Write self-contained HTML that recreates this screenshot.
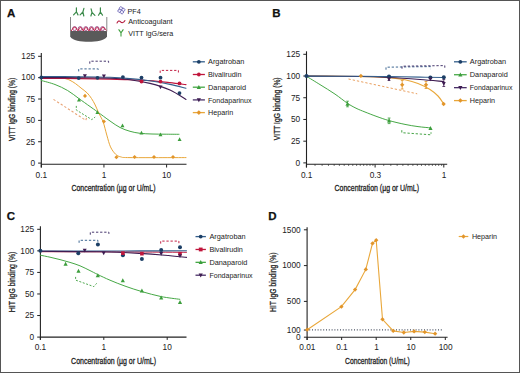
<!DOCTYPE html>
<html><head><meta charset="utf-8"><style>
html,body{margin:0;padding:0;background:#fff;}
body{width:520px;height:373px;overflow:hidden;font-family:"Liberation Sans", sans-serif;}
svg{display:block;}
</style></head><body>
<svg width="520" height="373" viewBox="0 0 520 373" font-family='"Liberation Sans", sans-serif'>
<rect x="0" y="0" width="520" height="373" fill="#fff"/>
<text x="6.90" y="16.70" font-size="11.50" font-weight="bold" text-anchor="start" fill="#111" stroke="#111" stroke-width="0.25">A</text>
<g>
<path d="M70.2,31 L107,31 L107,36.5 C105,40.5 96,41.8 88.6,41.8 C81,41.8 72.2,40.5 70.2,36.5 Z" fill="#5a5a5a"/>
<line x1="70.50" y1="17.00" x2="70.50" y2="31.50" stroke="#888" stroke-width="1.00"/>
<line x1="106.80" y1="17.00" x2="106.80" y2="31.50" stroke="#888" stroke-width="1.00"/>
<circle cx="74.6" cy="28.6" r="2.0" fill="#fbeef5" stroke="#8b3a7a" stroke-width="0.8"/>
<circle cx="80.2" cy="28.6" r="2.0" fill="#fbeef5" stroke="#8b3a7a" stroke-width="0.8"/>
<circle cx="85.8" cy="28.6" r="2.0" fill="#fbeef5" stroke="#8b3a7a" stroke-width="0.8"/>
<circle cx="91.4" cy="28.6" r="2.0" fill="#fbeef5" stroke="#8b3a7a" stroke-width="0.8"/>
<circle cx="97.0" cy="28.6" r="2.0" fill="#fbeef5" stroke="#8b3a7a" stroke-width="0.8"/>
<circle cx="102.6" cy="28.6" r="2.0" fill="#fbeef5" stroke="#8b3a7a" stroke-width="0.8"/>
<path d="M71.2,31 Q74.6,23.5 78,31 Q80.2,23.8 83.3,31 Q85.8,24 89,31 Q91.4,24 94.4,31 Q97,24 100,31 Q102.6,24 106.4,30.5" fill="none" stroke="#c0163c" stroke-width="0.9"/>
<path d="M76.4,7.8 L76.4,11.8 L73.6,14.9 M76.4,11.8 L78.0,14.9" fill="none" stroke="#3b8a4a" stroke-width="1.2" stroke-linecap="round" stroke-linejoin="round"/>
<path d="M83.9,8.3 L82.9,12.0 L80.1,14.9 M82.9,12.0 L83.8,16.0" fill="none" stroke="#3b8a4a" stroke-width="1.2" stroke-linecap="round" stroke-linejoin="round"/>
<path d="M91.1,8.8 L92.0,12.4 L90.9,16.0 M92.0,12.4 L94.9,15.4" fill="none" stroke="#3b8a4a" stroke-width="1.2" stroke-linecap="round" stroke-linejoin="round"/>
<path d="M100.4,7.8 L100.4,12.0 L98.5,15.2 M100.4,12.0 L102.5,15.2" fill="none" stroke="#3b8a4a" stroke-width="1.2" stroke-linecap="round" stroke-linejoin="round"/>
</g>
<g transform="translate(121.4,10.3) rotate(30)">
<circle cx="-1.40" cy="-1.40" r="1.6" fill="#f2f2ff" stroke="#6a62b0" stroke-width="0.8"/>
<circle cx="1.40" cy="-1.40" r="1.6" fill="#f2f2ff" stroke="#6a62b0" stroke-width="0.8"/>
<circle cx="-1.40" cy="1.40" r="1.6" fill="#f2f2ff" stroke="#6a62b0" stroke-width="0.8"/>
<circle cx="1.40" cy="1.40" r="1.6" fill="#f2f2ff" stroke="#6a62b0" stroke-width="0.8"/>
</g>
<text x="127.50" y="13.60" font-size="7.30" font-weight="normal" text-anchor="start" fill="#222" textLength="13.30" lengthAdjust="spacingAndGlyphs">PF4</text>
<path d="M116.8,23.4 Q118.5,19.5 120.6,21.8 Q122.7,24.2 125.2,20.2" fill="none" stroke="#b3163a" stroke-width="1.1"/>
<text x="128.20" y="24.00" font-size="7.30" font-weight="normal" text-anchor="start" fill="#222" textLength="44.40" lengthAdjust="spacingAndGlyphs">Anticoagulant</text>
<path d="M118.6,29.4 L121,32.8 L123.4,29.4 M121,32.8 L121,36.6" fill="none" stroke="#3c9e3c" stroke-width="1.1"/>
<text x="128.20" y="36.10" font-size="7.30" font-weight="normal" text-anchor="start" fill="#222" textLength="45.00" lengthAdjust="spacingAndGlyphs">VITT IgG/sera</text>
<line x1="41.30" y1="53.00" x2="41.30" y2="167.40" stroke="#222" stroke-width="1.10"/>
<line x1="38.10" y1="56.30" x2="41.30" y2="56.30" stroke="#222" stroke-width="1.00"/>
<text x="35.20" y="59.10" font-size="8.30" font-weight="normal" text-anchor="end" fill="#222">125</text>
<line x1="38.10" y1="77.66" x2="41.30" y2="77.66" stroke="#222" stroke-width="1.00"/>
<text x="35.20" y="80.46" font-size="8.30" font-weight="normal" text-anchor="end" fill="#222">100</text>
<line x1="38.10" y1="99.02" x2="41.30" y2="99.02" stroke="#222" stroke-width="1.00"/>
<text x="35.20" y="101.82" font-size="8.30" font-weight="normal" text-anchor="end" fill="#222">75</text>
<line x1="38.10" y1="120.38" x2="41.30" y2="120.38" stroke="#222" stroke-width="1.00"/>
<text x="35.20" y="123.18" font-size="8.30" font-weight="normal" text-anchor="end" fill="#222">50</text>
<line x1="38.10" y1="141.74" x2="41.30" y2="141.74" stroke="#222" stroke-width="1.00"/>
<text x="35.20" y="144.54" font-size="8.30" font-weight="normal" text-anchor="end" fill="#222">25</text>
<line x1="38.10" y1="163.10" x2="41.30" y2="163.10" stroke="#222" stroke-width="1.00"/>
<text x="35.20" y="165.90" font-size="8.30" font-weight="normal" text-anchor="end" fill="#222">0</text>
<line x1="41.30" y1="164.30" x2="186.50" y2="164.30" stroke="#222" stroke-width="1.10"/>
<line x1="41.30" y1="164.30" x2="41.30" y2="167.50" stroke="#222" stroke-width="1.00"/>
<text x="41.30" y="177.70" font-size="8.30" font-weight="normal" text-anchor="middle" fill="#222">0.1</text>
<line x1="103.95" y1="164.30" x2="103.95" y2="167.50" stroke="#222" stroke-width="1.00"/>
<text x="103.95" y="177.70" font-size="8.30" font-weight="normal" text-anchor="middle" fill="#222">1</text>
<line x1="166.60" y1="164.30" x2="166.60" y2="167.50" stroke="#222" stroke-width="1.00"/>
<text x="166.60" y="177.70" font-size="8.30" font-weight="normal" text-anchor="middle" fill="#222">10</text>
<text x="113.50" y="190.80" font-size="9.30" text-anchor="middle" fill="#222" stroke="#222" stroke-width="0.30" textLength="84.00" lengthAdjust="spacingAndGlyphs">Concentration (µg or U/mL)</text>
<text transform="translate(15.00,109.30) rotate(-90)" x="0" y="0" font-size="9.30" text-anchor="middle" fill="#222" stroke="#222" stroke-width="0.30" textLength="63.30" lengthAdjust="spacingAndGlyphs">VITT IgG binding (%)</text>
<path d="M41.30,80.50 C43.58,81.17 50.62,82.83 55.00,84.50 C59.38,86.17 63.63,88.17 67.60,90.50 C71.57,92.83 75.07,95.83 78.80,98.50 C82.53,101.17 86.90,104.28 90.00,106.50 C93.10,108.72 94.07,109.38 97.40,111.80 C100.73,114.22 106.23,118.38 110.00,121.00 C113.77,123.62 116.67,125.78 120.00,127.50 C123.33,129.22 126.67,130.33 130.00,131.30 C133.33,132.27 136.33,132.85 140.00,133.30 C143.67,133.75 147.83,133.85 152.00,134.00 C156.17,134.15 160.50,134.15 165.00,134.20 C169.50,134.25 176.67,134.28 179.00,134.30" fill="none" stroke="#46a846" stroke-width="1.00" stroke-linecap="round" stroke-linejoin="round"/>
<path d="M41.30,77.60 C43.58,77.63 51.22,77.68 55.00,77.80 C58.78,77.92 61.50,77.88 64.00,78.30 C66.50,78.72 68.07,79.40 70.00,80.30 C71.93,81.20 73.77,82.42 75.60,83.70 C77.43,84.98 79.08,86.47 81.00,88.00 C82.92,89.53 85.35,91.15 87.10,92.90 C88.85,94.65 90.15,96.48 91.50,98.50 C92.85,100.52 94.00,102.58 95.20,105.00 C96.40,107.42 97.38,110.20 98.70,113.00 C100.02,115.80 101.75,118.12 103.10,121.80 C104.45,125.48 105.57,130.92 106.80,135.10 C108.03,139.28 109.02,143.70 110.50,146.90 C111.98,150.10 113.98,152.63 115.70,154.30 C117.42,155.97 118.42,156.35 120.80,156.90 C123.18,157.45 119.13,157.48 130.00,157.60 C140.87,157.72 176.67,157.60 186.00,157.60" fill="none" stroke="#e9a73a" stroke-width="1.00" stroke-linecap="round" stroke-linejoin="round"/>
<path d="M41.30,78.40 C47.75,78.43 68.55,78.48 80.00,78.60 C91.45,78.72 101.67,78.90 110.00,79.10 C118.33,79.30 123.33,79.55 130.00,79.80 C136.67,80.05 143.33,80.13 150.00,80.60 C156.67,81.07 164.00,81.93 170.00,82.60 C176.00,83.27 183.33,84.27 186.00,84.60" fill="none" stroke="#c0163c" stroke-width="1.10" stroke-linecap="round" stroke-linejoin="round"/>
<path d="M41.30,76.60 C47.75,76.62 68.55,76.58 80.00,76.70 C91.45,76.82 101.67,76.98 110.00,77.30 C118.33,77.62 123.33,78.02 130.00,78.60 C136.67,79.18 143.33,79.83 150.00,80.80 C156.67,81.77 164.00,83.17 170.00,84.40 C176.00,85.63 183.33,87.57 186.00,88.20" fill="none" stroke="#345f8c" stroke-width="1.10" stroke-linecap="round" stroke-linejoin="round"/>
<path d="M41.30,77.60 C47.75,77.62 68.55,77.60 80.00,77.70 C91.45,77.80 101.67,77.87 110.00,78.20 C118.33,78.53 123.33,78.83 130.00,79.70 C136.67,80.57 143.33,81.68 150.00,83.40 C156.67,85.12 164.00,87.32 170.00,90.00 C176.00,92.68 183.33,97.92 186.00,99.50" fill="none" stroke="#3f1d52" stroke-width="1.10" stroke-linecap="round" stroke-linejoin="round"/>
<circle cx="41.30" cy="77.40" r="1.90" fill="#1c3f66"/>
<circle cx="78.70" cy="78.10" r="1.90" fill="#1c3f66"/>
<circle cx="97.50" cy="77.80" r="1.90" fill="#1c3f66"/>
<circle cx="122.90" cy="77.10" r="1.90" fill="#1c3f66"/>
<circle cx="141.50" cy="77.60" r="1.90" fill="#1c3f66"/>
<circle cx="160.50" cy="77.70" r="1.90" fill="#1c3f66"/>
<circle cx="179.50" cy="93.10" r="1.90" fill="#1c3f66"/>
<circle cx="141.50" cy="81.50" r="1.90" fill="#c0163c"/>
<circle cx="160.50" cy="81.60" r="1.90" fill="#c0163c"/>
<circle cx="179.50" cy="83.40" r="1.90" fill="#c0163c"/>
<polygon points="84.90,77.96 82.92,74.18 86.88,74.18" fill="#3f1d52"/>
<polygon points="103.90,78.16 101.92,74.38 105.88,74.38" fill="#3f1d52"/>
<polygon points="160.50,89.16 158.52,85.38 162.48,85.38" fill="#3f1d52"/>
<polygon points="79.00,97.64 77.02,101.42 80.98,101.42" fill="#3c9e3c"/>
<polygon points="97.40,110.24 95.42,114.02 99.38,114.02" fill="#3c9e3c"/>
<polygon points="122.50,123.44 120.52,127.22 124.48,127.22" fill="#3c9e3c"/>
<polygon points="141.50,130.84 139.52,134.62 143.48,134.62" fill="#3c9e3c"/>
<polygon points="160.50,132.54 158.52,136.32 162.48,136.32" fill="#3c9e3c"/>
<polygon points="179.60,137.24 177.62,141.02 181.58,141.02" fill="#3c9e3c"/>
<polygon points="85.00,93.86 87.04,95.90 85.00,97.94 82.96,95.90" fill="#e2952a"/>
<polygon points="103.90,119.46 105.94,121.50 103.90,123.54 101.86,121.50" fill="#e2952a"/>
<polygon points="116.40,155.16 118.44,157.20 116.40,159.24 114.36,157.20" fill="#e2952a"/>
<polygon points="134.60,154.96 136.64,157.00 134.60,159.04 132.56,157.00" fill="#e2952a"/>
<polygon points="154.00,154.96 156.04,157.00 154.00,159.04 151.96,157.00" fill="#e2952a"/>
<polygon points="173.00,154.96 175.04,157.00 173.00,159.04 170.96,157.00" fill="#e2952a"/>
<polyline points="78.70,71.40 78.70,68.90 98.30,68.90 98.30,71.40" fill="none" stroke="#345f8c" stroke-width="0.95" stroke-dasharray="2.3,1.8"/>
<polyline points="89.80,63.70 89.80,61.20 108.60,61.20 108.60,63.70" fill="none" stroke="#3d2d66" stroke-width="0.95" stroke-dasharray="2.3,1.8"/>
<polyline points="160.20,72.90 160.20,70.40 178.40,70.40 178.40,72.90" fill="none" stroke="#c0163c" stroke-width="0.95" stroke-dasharray="2.3,1.8"/>
<polyline points="53.5,99.4 85.8,120.3 86.6,117.6" fill="none" stroke="#e9a476" stroke-width="1.1" stroke-dasharray="2.3,2"/>
<polyline points="76.3,105.9 76.3,110 91.8,119.6 95.2,117" fill="none" stroke="#3c9e3c" stroke-width="0.9" stroke-dasharray="2,1.6"/>
<line x1="192.80" y1="61.80" x2="204.90" y2="61.80" stroke="#345f8c" stroke-width="1.30"/>
<circle cx="198.85" cy="61.80" r="1.90" fill="#1c3f66"/>
<text x="208.00" y="64.40" font-size="7.30" font-weight="normal" text-anchor="start" fill="#222" textLength="36.30" lengthAdjust="spacingAndGlyphs">Argatroban</text>
<line x1="192.80" y1="74.50" x2="204.90" y2="74.50" stroke="#c0163c" stroke-width="1.30"/>
<circle cx="198.85" cy="74.50" r="1.90" fill="#c0163c"/>
<text x="208.00" y="77.10" font-size="7.30" font-weight="normal" text-anchor="start" fill="#222" textLength="33.50" lengthAdjust="spacingAndGlyphs">Bivalirudin</text>
<line x1="192.80" y1="87.20" x2="204.90" y2="87.20" stroke="#46a846" stroke-width="1.30"/>
<polygon points="198.85,84.92 196.76,88.91 200.94,88.91" fill="#3c9e3c"/>
<text x="208.00" y="89.80" font-size="7.30" font-weight="normal" text-anchor="start" fill="#222" textLength="38.00" lengthAdjust="spacingAndGlyphs">Danaparoid</text>
<line x1="192.80" y1="99.90" x2="204.90" y2="99.90" stroke="#4a3068" stroke-width="1.30"/>
<polygon points="198.85,102.18 196.76,98.19 200.94,98.19" fill="#3f1d52"/>
<text x="208.00" y="102.50" font-size="7.30" font-weight="normal" text-anchor="start" fill="#222" textLength="43.60" lengthAdjust="spacingAndGlyphs">Fondaparinux</text>
<line x1="192.80" y1="112.60" x2="204.90" y2="112.60" stroke="#e9a73a" stroke-width="1.30"/>
<polygon points="198.85,110.32 201.13,112.60 198.85,114.88 196.57,112.60" fill="#e2952a"/>
<text x="208.00" y="115.20" font-size="7.30" font-weight="normal" text-anchor="start" fill="#222" textLength="25.20" lengthAdjust="spacingAndGlyphs">Heparin</text>
<text x="272.20" y="16.80" font-size="11.50" font-weight="bold" text-anchor="start" fill="#111" stroke="#111" stroke-width="0.25">B</text>
<line x1="306.50" y1="51.30" x2="306.50" y2="167.40" stroke="#222" stroke-width="1.10"/>
<line x1="303.30" y1="54.30" x2="306.50" y2="54.30" stroke="#222" stroke-width="1.00"/>
<text x="300.20" y="57.10" font-size="8.30" font-weight="normal" text-anchor="end" fill="#222">125</text>
<line x1="303.30" y1="76.02" x2="306.50" y2="76.02" stroke="#222" stroke-width="1.00"/>
<text x="300.20" y="78.82" font-size="8.30" font-weight="normal" text-anchor="end" fill="#222">100</text>
<line x1="303.30" y1="97.74" x2="306.50" y2="97.74" stroke="#222" stroke-width="1.00"/>
<text x="300.20" y="100.54" font-size="8.30" font-weight="normal" text-anchor="end" fill="#222">75</text>
<line x1="303.30" y1="119.46" x2="306.50" y2="119.46" stroke="#222" stroke-width="1.00"/>
<text x="300.20" y="122.26" font-size="8.30" font-weight="normal" text-anchor="end" fill="#222">50</text>
<line x1="303.30" y1="141.18" x2="306.50" y2="141.18" stroke="#222" stroke-width="1.00"/>
<text x="300.20" y="143.98" font-size="8.30" font-weight="normal" text-anchor="end" fill="#222">25</text>
<line x1="303.30" y1="162.90" x2="306.50" y2="162.90" stroke="#222" stroke-width="1.00"/>
<text x="300.20" y="165.70" font-size="8.30" font-weight="normal" text-anchor="end" fill="#222">0</text>
<line x1="306.50" y1="164.30" x2="447.20" y2="164.30" stroke="#222" stroke-width="1.10"/>
<line x1="306.40" y1="164.30" x2="306.40" y2="167.50" stroke="#222" stroke-width="1.00"/>
<text x="306.70" y="177.60" font-size="8.30" font-weight="normal" text-anchor="middle" fill="#222">0.1</text>
<line x1="375.10" y1="164.30" x2="375.10" y2="167.50" stroke="#222" stroke-width="1.00"/>
<text x="375.40" y="177.60" font-size="8.30" font-weight="normal" text-anchor="middle" fill="#222">0.3</text>
<line x1="443.80" y1="164.30" x2="443.80" y2="167.50" stroke="#222" stroke-width="1.00"/>
<text x="444.10" y="177.60" font-size="8.30" font-weight="normal" text-anchor="middle" fill="#222">1</text>
<line x1="315.04" y1="164.30" x2="315.04" y2="165.90" stroke="#222" stroke-width="0.70"/>
<line x1="322.12" y1="164.30" x2="322.12" y2="165.90" stroke="#222" stroke-width="0.70"/>
<line x1="328.45" y1="164.30" x2="328.45" y2="165.90" stroke="#222" stroke-width="0.70"/>
<line x1="334.17" y1="164.30" x2="334.17" y2="165.90" stroke="#222" stroke-width="0.70"/>
<line x1="339.39" y1="164.30" x2="339.39" y2="165.90" stroke="#222" stroke-width="0.70"/>
<line x1="344.19" y1="164.30" x2="344.19" y2="165.90" stroke="#222" stroke-width="0.70"/>
<line x1="348.63" y1="164.30" x2="348.63" y2="165.90" stroke="#222" stroke-width="0.70"/>
<line x1="352.77" y1="164.30" x2="352.77" y2="165.90" stroke="#222" stroke-width="0.70"/>
<line x1="356.63" y1="164.30" x2="356.63" y2="165.90" stroke="#222" stroke-width="0.70"/>
<line x1="360.26" y1="164.30" x2="360.26" y2="165.90" stroke="#222" stroke-width="0.70"/>
<line x1="363.69" y1="164.30" x2="363.69" y2="165.90" stroke="#222" stroke-width="0.70"/>
<line x1="366.92" y1="164.30" x2="366.92" y2="165.90" stroke="#222" stroke-width="0.70"/>
<line x1="370.00" y1="164.30" x2="370.00" y2="165.90" stroke="#222" stroke-width="0.70"/>
<line x1="372.92" y1="164.30" x2="372.92" y2="165.90" stroke="#222" stroke-width="0.70"/>
<line x1="383.74" y1="164.30" x2="383.74" y2="165.90" stroke="#222" stroke-width="0.70"/>
<line x1="390.82" y1="164.30" x2="390.82" y2="165.90" stroke="#222" stroke-width="0.70"/>
<line x1="397.15" y1="164.30" x2="397.15" y2="165.90" stroke="#222" stroke-width="0.70"/>
<line x1="402.87" y1="164.30" x2="402.87" y2="165.90" stroke="#222" stroke-width="0.70"/>
<line x1="408.09" y1="164.30" x2="408.09" y2="165.90" stroke="#222" stroke-width="0.70"/>
<line x1="412.89" y1="164.30" x2="412.89" y2="165.90" stroke="#222" stroke-width="0.70"/>
<line x1="417.33" y1="164.30" x2="417.33" y2="165.90" stroke="#222" stroke-width="0.70"/>
<line x1="421.47" y1="164.30" x2="421.47" y2="165.90" stroke="#222" stroke-width="0.70"/>
<line x1="425.33" y1="164.30" x2="425.33" y2="165.90" stroke="#222" stroke-width="0.70"/>
<line x1="428.96" y1="164.30" x2="428.96" y2="165.90" stroke="#222" stroke-width="0.70"/>
<line x1="432.39" y1="164.30" x2="432.39" y2="165.90" stroke="#222" stroke-width="0.70"/>
<line x1="435.62" y1="164.30" x2="435.62" y2="165.90" stroke="#222" stroke-width="0.70"/>
<line x1="438.70" y1="164.30" x2="438.70" y2="165.90" stroke="#222" stroke-width="0.70"/>
<line x1="441.62" y1="164.30" x2="441.62" y2="165.90" stroke="#222" stroke-width="0.70"/>
<text x="376.80" y="190.80" font-size="9.30" text-anchor="middle" fill="#222" stroke="#222" stroke-width="0.30" textLength="84.50" lengthAdjust="spacingAndGlyphs">Concentration (µg or U/mL)</text>
<text transform="translate(280.00,108.80) rotate(-90)" x="0" y="0" font-size="9.30" text-anchor="middle" fill="#222" stroke="#222" stroke-width="0.30" textLength="62.70" lengthAdjust="spacingAndGlyphs">VITT IgG binding (%)</text>
<path d="M306.50,76.30 C308.75,77.68 315.25,81.63 320.00,84.60 C324.75,87.57 330.42,90.98 335.00,94.10 C339.58,97.22 344.00,100.95 347.50,103.30 C351.00,105.65 353.08,106.75 356.00,108.20 C358.92,109.65 361.50,110.60 365.00,112.00 C368.50,113.40 372.98,115.17 377.00,116.60 C381.02,118.03 384.43,119.30 389.10,120.60 C393.77,121.90 400.18,123.40 405.00,124.40 C409.82,125.40 413.75,126.02 418.00,126.60 C422.25,127.18 428.42,127.68 430.50,127.90" fill="none" stroke="#46a846" stroke-width="1.00" stroke-linecap="round" stroke-linejoin="round"/>
<path d="M306.50,76.10 C312.08,76.12 329.42,76.12 340.00,76.20 C350.58,76.28 361.83,76.37 370.00,76.60 C378.17,76.83 383.17,77.07 389.00,77.60 C394.83,78.13 400.17,78.82 405.00,79.80 C409.83,80.78 413.83,81.88 418.00,83.50 C422.17,85.12 426.67,87.42 430.00,89.50 C433.33,91.58 435.70,93.58 438.00,96.00 C440.30,98.42 442.83,102.67 443.80,104.00" fill="none" stroke="#e9a73a" stroke-width="1.10" stroke-linecap="round" stroke-linejoin="round"/>
<path d="M306.50,76.10 C315.42,76.17 346.25,76.27 360.00,76.50 C373.75,76.73 379.00,77.00 389.00,77.50 C399.00,78.00 410.87,78.83 420.00,79.50 C429.13,80.17 439.83,81.17 443.80,81.50" fill="none" stroke="#3f1d52" stroke-width="1.10" stroke-linecap="round" stroke-linejoin="round"/>
<path d="M306.50,76.10 C315.42,76.13 346.25,76.22 360.00,76.30 C373.75,76.38 379.00,76.47 389.00,76.60 C399.00,76.73 410.87,76.95 420.00,77.10 C429.13,77.25 439.83,77.43 443.80,77.50" fill="none" stroke="#345f8c" stroke-width="1.10" stroke-linecap="round" stroke-linejoin="round"/>
<line x1="347.50" y1="101.20" x2="347.50" y2="106.80" stroke="#3c9e3c" stroke-width="0.80"/>
<line x1="346.10" y1="101.20" x2="348.90" y2="101.20" stroke="#3c9e3c" stroke-width="0.80"/>
<line x1="346.10" y1="106.80" x2="348.90" y2="106.80" stroke="#3c9e3c" stroke-width="0.80"/>
<line x1="389.10" y1="118.00" x2="389.10" y2="123.60" stroke="#3c9e3c" stroke-width="0.80"/>
<line x1="387.70" y1="118.00" x2="390.50" y2="118.00" stroke="#3c9e3c" stroke-width="0.80"/>
<line x1="387.70" y1="123.60" x2="390.50" y2="123.60" stroke="#3c9e3c" stroke-width="0.80"/>
<line x1="402.20" y1="80.50" x2="402.20" y2="89.00" stroke="#e2952a" stroke-width="0.80"/>
<line x1="400.80" y1="80.50" x2="403.60" y2="80.50" stroke="#e2952a" stroke-width="0.80"/>
<line x1="400.80" y1="89.00" x2="403.60" y2="89.00" stroke="#e2952a" stroke-width="0.80"/>
<line x1="426.00" y1="81.50" x2="426.00" y2="88.50" stroke="#e2952a" stroke-width="0.80"/>
<line x1="424.60" y1="81.50" x2="427.40" y2="81.50" stroke="#e2952a" stroke-width="0.80"/>
<line x1="424.60" y1="88.50" x2="427.40" y2="88.50" stroke="#e2952a" stroke-width="0.80"/>
<line x1="389.00" y1="76.00" x2="389.00" y2="80.50" stroke="#3f1d52" stroke-width="0.80"/>
<line x1="387.60" y1="76.00" x2="390.40" y2="76.00" stroke="#3f1d52" stroke-width="0.80"/>
<line x1="387.60" y1="80.50" x2="390.40" y2="80.50" stroke="#3f1d52" stroke-width="0.80"/>
<line x1="443.80" y1="79.50" x2="443.80" y2="86.50" stroke="#3f1d52" stroke-width="0.80"/>
<line x1="442.40" y1="79.50" x2="445.20" y2="79.50" stroke="#3f1d52" stroke-width="0.80"/>
<line x1="442.40" y1="86.50" x2="445.20" y2="86.50" stroke="#3f1d52" stroke-width="0.80"/>
<circle cx="306.50" cy="76.10" r="2.00" fill="#1c3f66"/>
<circle cx="389.00" cy="76.40" r="2.00" fill="#1c3f66"/>
<circle cx="430.40" cy="77.50" r="2.00" fill="#1c3f66"/>
<circle cx="443.80" cy="77.20" r="2.00" fill="#1c3f66"/>
<polygon points="389.00,81.16 387.02,77.38 390.98,77.38" fill="#3f1d52"/>
<polygon points="430.40,81.16 428.42,77.38 432.38,77.38" fill="#3f1d52"/>
<polygon points="443.80,85.66 441.82,81.88 445.78,81.88" fill="#3f1d52"/>
<polygon points="347.50,101.72 345.41,105.71 349.59,105.71" fill="#3c9e3c"/>
<polygon points="389.10,118.52 387.01,122.51 391.19,122.51" fill="#3c9e3c"/>
<polygon points="430.50,126.12 428.41,130.11 432.59,130.11" fill="#3c9e3c"/>
<polygon points="360.90,73.74 363.06,75.90 360.90,78.06 358.74,75.90" fill="#e2952a"/>
<polygon points="402.20,82.64 404.36,84.80 402.20,86.96 400.04,84.80" fill="#e2952a"/>
<polygon points="426.00,82.64 428.16,84.80 426.00,86.96 423.84,84.80" fill="#e2952a"/>
<polygon points="443.60,101.84 445.76,104.00 443.60,106.16 441.44,104.00" fill="#e2952a"/>
<polyline points="386.00,69.70 386.00,67.20 430.40,66.60 430.40,69.10" fill="none" stroke="#345f8c" stroke-width="0.95" stroke-dasharray="2.3,1.8"/>
<polyline points="402.00,68.70 402.00,66.20 444.80,65.60 444.80,68.10" fill="none" stroke="#3d2d66" stroke-width="0.95" stroke-dasharray="2.3,1.8"/>
<polyline points="348.5,79.0 417.2,93.8" fill="none" stroke="#eaa060" stroke-width="1.0" stroke-dasharray="2.3,2"/>
<polyline points="401.80,130.20 401.80,132.70 431.00,134.80 431.00,132.30" fill="none" stroke="#3c9e3c" stroke-width="0.95" stroke-dasharray="2.3,1.8"/>
<line x1="454.00" y1="61.80" x2="466.70" y2="61.80" stroke="#345f8c" stroke-width="1.30"/>
<circle cx="460.35" cy="61.80" r="1.90" fill="#1c3f66"/>
<text x="469.80" y="64.40" font-size="7.30" font-weight="normal" text-anchor="start" fill="#222" textLength="36.30" lengthAdjust="spacingAndGlyphs">Argatroban</text>
<line x1="454.00" y1="74.73" x2="466.70" y2="74.73" stroke="#46a846" stroke-width="1.30"/>
<polygon points="460.35,72.45 458.26,76.44 462.44,76.44" fill="#3c9e3c"/>
<text x="469.80" y="77.33" font-size="7.30" font-weight="normal" text-anchor="start" fill="#222" textLength="38.00" lengthAdjust="spacingAndGlyphs">Danaparoid</text>
<line x1="454.00" y1="87.66" x2="466.70" y2="87.66" stroke="#4a3068" stroke-width="1.30"/>
<polygon points="460.35,89.94 458.26,85.95 462.44,85.95" fill="#3f1d52"/>
<text x="469.80" y="90.26" font-size="7.30" font-weight="normal" text-anchor="start" fill="#222" textLength="42.70" lengthAdjust="spacingAndGlyphs">Fondaparinux</text>
<line x1="454.00" y1="100.59" x2="466.70" y2="100.59" stroke="#e9a73a" stroke-width="1.30"/>
<polygon points="460.35,98.31 462.63,100.59 460.35,102.87 458.07,100.59" fill="#e2952a"/>
<text x="469.80" y="103.19" font-size="7.30" font-weight="normal" text-anchor="start" fill="#222" textLength="25.20" lengthAdjust="spacingAndGlyphs">Heparin</text>
<text x="6.80" y="219.80" font-size="11.50" font-weight="bold" text-anchor="start" fill="#111" stroke="#111" stroke-width="0.25">C</text>
<line x1="40.40" y1="226.20" x2="40.40" y2="339.80" stroke="#222" stroke-width="1.10"/>
<line x1="37.20" y1="229.30" x2="40.40" y2="229.30" stroke="#222" stroke-width="1.00"/>
<text x="34.20" y="232.10" font-size="8.30" font-weight="normal" text-anchor="end" fill="#222">125</text>
<line x1="37.20" y1="250.86" x2="40.40" y2="250.86" stroke="#222" stroke-width="1.00"/>
<text x="34.20" y="253.66" font-size="8.30" font-weight="normal" text-anchor="end" fill="#222">100</text>
<line x1="37.20" y1="272.42" x2="40.40" y2="272.42" stroke="#222" stroke-width="1.00"/>
<text x="34.20" y="275.22" font-size="8.30" font-weight="normal" text-anchor="end" fill="#222">75</text>
<line x1="37.20" y1="293.98" x2="40.40" y2="293.98" stroke="#222" stroke-width="1.00"/>
<text x="34.20" y="296.78" font-size="8.30" font-weight="normal" text-anchor="end" fill="#222">50</text>
<line x1="37.20" y1="315.54" x2="40.40" y2="315.54" stroke="#222" stroke-width="1.00"/>
<text x="34.20" y="318.34" font-size="8.30" font-weight="normal" text-anchor="end" fill="#222">25</text>
<line x1="37.20" y1="337.10" x2="40.40" y2="337.10" stroke="#222" stroke-width="1.00"/>
<text x="34.20" y="339.90" font-size="8.30" font-weight="normal" text-anchor="end" fill="#222">0</text>
<line x1="40.40" y1="337.10" x2="186.50" y2="337.10" stroke="#222" stroke-width="1.10"/>
<line x1="40.40" y1="337.10" x2="40.40" y2="339.90" stroke="#222" stroke-width="1.00"/>
<text x="40.40" y="350.00" font-size="8.30" font-weight="normal" text-anchor="middle" fill="#222">0.1</text>
<line x1="103.80" y1="337.10" x2="103.80" y2="339.90" stroke="#222" stroke-width="1.00"/>
<text x="103.80" y="350.00" font-size="8.30" font-weight="normal" text-anchor="middle" fill="#222">1</text>
<line x1="167.20" y1="337.10" x2="167.20" y2="339.90" stroke="#222" stroke-width="1.00"/>
<text x="167.20" y="350.00" font-size="8.30" font-weight="normal" text-anchor="middle" fill="#222">10</text>
<text x="113.60" y="363.90" font-size="9.30" text-anchor="middle" fill="#222" stroke="#222" stroke-width="0.30" textLength="85.00" lengthAdjust="spacingAndGlyphs">Concentration (µg or U/mL)</text>
<text transform="translate(15.00,281.90) rotate(-90)" x="0" y="0" font-size="9.30" text-anchor="middle" fill="#222" stroke="#222" stroke-width="0.30" textLength="60.50" lengthAdjust="spacingAndGlyphs">HIT IgG binding (%)</text>
<path d="M40.40,255.20 C42.00,255.53 46.73,256.47 50.00,257.20 C53.27,257.93 56.67,258.73 60.00,259.60 C63.33,260.47 66.67,261.37 70.00,262.40 C73.33,263.43 76.67,264.43 80.00,265.80 C83.33,267.17 87.08,269.17 90.00,270.60 C92.92,272.03 94.17,272.80 97.50,274.40 C100.83,276.00 105.42,278.25 110.00,280.20 C114.58,282.15 119.68,284.20 125.00,286.10 C130.32,288.00 135.87,289.85 141.90,291.60 C147.93,293.35 154.88,295.32 161.20,296.60 C167.52,297.88 176.70,298.85 179.80,299.30" fill="none" stroke="#46a846" stroke-width="1.00" stroke-linecap="round" stroke-linejoin="round"/>
<path d="M40.40,251.70 C50.33,251.72 83.40,251.75 100.00,251.80 C116.60,251.85 125.58,251.92 140.00,252.00 C154.42,252.08 178.75,252.25 186.50,252.30" fill="none" stroke="#c0163c" stroke-width="1.00" stroke-linecap="round" stroke-linejoin="round"/>
<path d="M40.40,251.00 C50.33,251.00 83.40,251.02 100.00,251.00 C116.60,250.98 125.58,250.93 140.00,250.90 C154.42,250.87 178.75,250.82 186.50,250.80" fill="none" stroke="#345f8c" stroke-width="1.10" stroke-linecap="round" stroke-linejoin="round"/>
<path d="M40.40,251.30 C50.33,251.38 83.40,251.45 100.00,251.80 C116.60,252.15 129.17,252.83 140.00,253.40 C150.83,253.97 157.25,254.53 165.00,255.20 C172.75,255.87 182.92,257.03 186.50,257.40" fill="none" stroke="#3f1d52" stroke-width="1.10" stroke-linecap="round" stroke-linejoin="round"/>
<circle cx="40.40" cy="250.80" r="2.00" fill="#1c3f66"/>
<circle cx="78.30" cy="253.20" r="2.00" fill="#1c3f66"/>
<circle cx="97.90" cy="244.60" r="2.00" fill="#1c3f66"/>
<circle cx="122.90" cy="255.30" r="2.00" fill="#1c3f66"/>
<circle cx="141.90" cy="259.10" r="2.00" fill="#1c3f66"/>
<circle cx="161.20" cy="250.00" r="2.00" fill="#1c3f66"/>
<circle cx="180.00" cy="247.20" r="2.00" fill="#1c3f66"/>
<rect x="121.10" y="251.40" width="3.60" height="3.60" fill="#c0163c"/>
<rect x="140.10" y="251.90" width="3.60" height="3.60" fill="#c0163c"/>
<rect x="178.20" y="251.90" width="3.60" height="3.60" fill="#c0163c"/>
<polygon points="84.70,252.56 82.72,248.78 86.68,248.78" fill="#3f1d52"/>
<polygon points="103.70,255.36 101.72,251.58 105.68,251.58" fill="#3f1d52"/>
<polygon points="161.20,255.86 159.22,252.08 163.18,252.08" fill="#3f1d52"/>
<polygon points="180.00,257.96 178.02,254.18 181.98,254.18" fill="#3f1d52"/>
<polygon points="65.60,261.72 63.51,265.71 67.69,265.71" fill="#3c9e3c"/>
<polygon points="78.50,268.72 76.41,272.71 80.59,272.71" fill="#3c9e3c"/>
<polygon points="97.80,273.32 95.71,277.31 99.89,277.31" fill="#3c9e3c"/>
<polygon points="122.80,278.22 120.71,282.21 124.89,282.21" fill="#3c9e3c"/>
<polygon points="141.90,288.62 139.81,292.61 143.99,292.61" fill="#3c9e3c"/>
<polygon points="161.20,295.42 159.11,299.41 163.29,299.41" fill="#3c9e3c"/>
<polygon points="180.00,299.92 177.91,303.91 182.09,303.91" fill="#3c9e3c"/>
<polyline points="79.10,242.80 79.10,240.30 97.90,240.30 97.90,242.80" fill="none" stroke="#345f8c" stroke-width="0.95" stroke-dasharray="2.3,1.8"/>
<polyline points="90.30,234.70 90.30,232.20 108.90,232.20 108.90,234.70" fill="none" stroke="#3d2d66" stroke-width="0.95" stroke-dasharray="2.3,1.8"/>
<polyline points="160.70,243.60 160.70,241.10 178.90,241.10 178.90,243.60" fill="none" stroke="#c0163c" stroke-width="0.95" stroke-dasharray="2.3,1.8"/>
<polyline points="75.6,276.9 75.6,280.1 93.8,286.6 96.7,283.3" fill="none" stroke="#3c9e3c" stroke-width="0.9" stroke-dasharray="2,1.6"/>
<line x1="195.50" y1="236.60" x2="205.90" y2="236.60" stroke="#345f8c" stroke-width="1.30"/>
<circle cx="200.70" cy="236.60" r="1.90" fill="#1c3f66"/>
<text x="209.40" y="239.20" font-size="7.30" font-weight="normal" text-anchor="start" fill="#222" textLength="36.30" lengthAdjust="spacingAndGlyphs">Argatroban</text>
<line x1="195.50" y1="249.47" x2="205.90" y2="249.47" stroke="#c0163c" stroke-width="1.30"/>
<rect x="198.80" y="247.57" width="3.80" height="3.80" fill="#c0163c"/>
<text x="209.40" y="252.07" font-size="7.30" font-weight="normal" text-anchor="start" fill="#222" textLength="33.50" lengthAdjust="spacingAndGlyphs">Bivalirudin</text>
<line x1="195.50" y1="262.34" x2="205.90" y2="262.34" stroke="#46a846" stroke-width="1.30"/>
<polygon points="200.70,260.06 198.61,264.05 202.79,264.05" fill="#3c9e3c"/>
<text x="209.40" y="264.94" font-size="7.30" font-weight="normal" text-anchor="start" fill="#222" textLength="38.00" lengthAdjust="spacingAndGlyphs">Danaparoid</text>
<line x1="195.50" y1="275.21" x2="205.90" y2="275.21" stroke="#4a3068" stroke-width="1.30"/>
<polygon points="200.70,277.49 198.61,273.50 202.79,273.50" fill="#3f1d52"/>
<text x="209.40" y="277.81" font-size="7.30" font-weight="normal" text-anchor="start" fill="#222" textLength="43.20" lengthAdjust="spacingAndGlyphs">Fondaparinux</text>
<text x="268.20" y="219.50" font-size="11.50" font-weight="bold" text-anchor="start" fill="#111" stroke="#111" stroke-width="0.25">D</text>
<line x1="307.10" y1="227.30" x2="307.10" y2="340.00" stroke="#222" stroke-width="1.10"/>
<line x1="303.90" y1="229.80" x2="307.10" y2="229.80" stroke="#222" stroke-width="1.00"/>
<text x="300.70" y="232.60" font-size="8.30" font-weight="normal" text-anchor="end" fill="#222">1500</text>
<line x1="303.90" y1="265.60" x2="307.10" y2="265.60" stroke="#222" stroke-width="1.00"/>
<text x="300.70" y="268.40" font-size="8.30" font-weight="normal" text-anchor="end" fill="#222">1000</text>
<line x1="303.90" y1="301.40" x2="307.10" y2="301.40" stroke="#222" stroke-width="1.00"/>
<text x="300.70" y="304.20" font-size="8.30" font-weight="normal" text-anchor="end" fill="#222">500</text>
<line x1="303.90" y1="330.04" x2="307.10" y2="330.04" stroke="#222" stroke-width="1.00"/>
<text x="300.70" y="332.84" font-size="8.30" font-weight="normal" text-anchor="end" fill="#222">100</text>
<line x1="303.90" y1="337.20" x2="307.10" y2="337.20" stroke="#222" stroke-width="1.00"/>
<text x="300.70" y="340.00" font-size="8.30" font-weight="normal" text-anchor="end" fill="#222">0</text>
<line x1="307.10" y1="337.20" x2="447.60" y2="337.20" stroke="#222" stroke-width="1.10"/>
<line x1="307.10" y1="337.20" x2="307.10" y2="340.00" stroke="#222" stroke-width="1.00"/>
<text x="307.40" y="350.10" font-size="8.30" font-weight="normal" text-anchor="middle" fill="#222">0.01</text>
<line x1="341.65" y1="337.20" x2="341.65" y2="340.00" stroke="#222" stroke-width="1.00"/>
<text x="341.95" y="350.10" font-size="8.30" font-weight="normal" text-anchor="middle" fill="#222">0.1</text>
<line x1="376.20" y1="337.20" x2="376.20" y2="340.00" stroke="#222" stroke-width="1.00"/>
<text x="376.50" y="350.10" font-size="8.30" font-weight="normal" text-anchor="middle" fill="#222">1</text>
<line x1="410.75" y1="337.20" x2="410.75" y2="340.00" stroke="#222" stroke-width="1.00"/>
<text x="411.05" y="350.10" font-size="8.30" font-weight="normal" text-anchor="middle" fill="#222">10</text>
<line x1="445.30" y1="337.20" x2="445.30" y2="340.00" stroke="#222" stroke-width="1.00"/>
<text x="445.60" y="350.10" font-size="8.30" font-weight="normal" text-anchor="middle" fill="#222">100</text>
<text x="377.40" y="363.70" font-size="9.30" text-anchor="middle" fill="#222" stroke="#222" stroke-width="0.30" textLength="64.80" lengthAdjust="spacingAndGlyphs">Concentration (U/mL)</text>
<text transform="translate(276.00,282.20) rotate(-90)" x="0" y="0" font-size="9.30" text-anchor="middle" fill="#222" stroke="#222" stroke-width="0.30" textLength="59.60" lengthAdjust="spacingAndGlyphs">HIT IgG binding (%)</text>
<line x1="309.20" y1="329.90" x2="442.80" y2="329.90" stroke="#4a5262" stroke-width="1.20" stroke-dasharray="1,1.8"/>
<polyline points="307.20,329.70 341.40,306.70 355.10,289.60 365.80,269.40 372.50,243.40 376.20,240.20 382.50,319.30 393.20,330.90 403.80,332.50 414.10,331.40 424.80,332.10 435.10,333.70" fill="none" stroke="#e9a73a" stroke-width="1.10"/>
<polygon points="307.20,327.54 309.36,329.70 307.20,331.86 305.04,329.70" fill="#e2952a"/>
<polygon points="341.40,304.54 343.56,306.70 341.40,308.86 339.24,306.70" fill="#e2952a"/>
<polygon points="355.10,287.44 357.26,289.60 355.10,291.76 352.94,289.60" fill="#e2952a"/>
<polygon points="365.80,267.24 367.96,269.40 365.80,271.56 363.64,269.40" fill="#e2952a"/>
<polygon points="372.50,241.24 374.66,243.40 372.50,245.56 370.34,243.40" fill="#e2952a"/>
<polygon points="376.20,238.04 378.36,240.20 376.20,242.36 374.04,240.20" fill="#e2952a"/>
<polygon points="382.50,317.14 384.66,319.30 382.50,321.46 380.34,319.30" fill="#e2952a"/>
<polygon points="393.20,328.74 395.36,330.90 393.20,333.06 391.04,330.90" fill="#e2952a"/>
<polygon points="403.80,330.34 405.96,332.50 403.80,334.66 401.64,332.50" fill="#e2952a"/>
<polygon points="414.10,329.24 416.26,331.40 414.10,333.56 411.94,331.40" fill="#e2952a"/>
<polygon points="424.80,329.94 426.96,332.10 424.80,334.26 422.64,332.10" fill="#e2952a"/>
<polygon points="435.10,331.54 437.26,333.70 435.10,335.86 432.94,333.70" fill="#e2952a"/>
<line x1="458.70" y1="236.50" x2="468.30" y2="236.50" stroke="#e9a73a" stroke-width="1.20"/>
<polygon points="463.50,234.34 465.66,236.50 463.50,238.66 461.34,236.50" fill="#e2952a"/>
<text x="471.90" y="238.80" font-size="7.30" font-weight="normal" text-anchor="start" fill="#222" textLength="25.20" lengthAdjust="spacingAndGlyphs">Heparin</text>
<rect x="0.5" y="0.5" width="519" height="372" fill="none" stroke="#555" stroke-width="1"/>
</svg>
</body></html>
